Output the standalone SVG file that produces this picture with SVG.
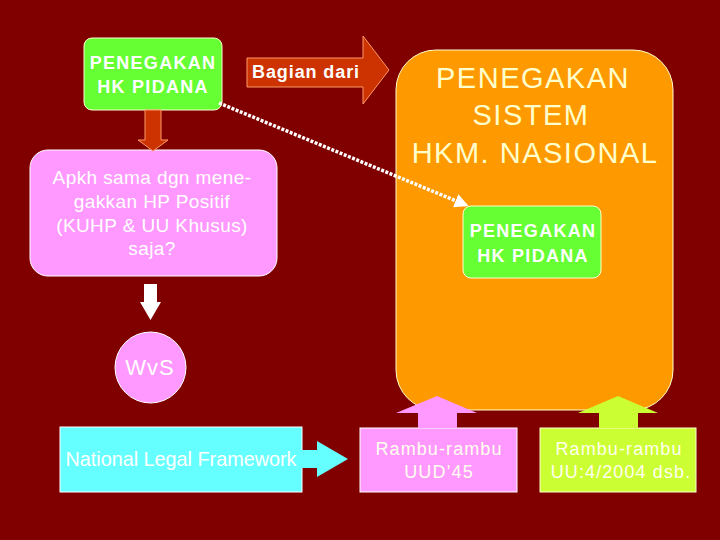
<svg xmlns="http://www.w3.org/2000/svg" width="720" height="540" viewBox="0 0 720 540">
<defs>
<style>
text{font-family:"Liberation Sans",Arial,sans-serif;fill:#ffffff;text-anchor:middle}
.b{font-weight:bold;font-size:18px;letter-spacing:1.3px}
.g{fill:#66ff33;stroke:#ffffcc;stroke-width:1}
.pk{fill:#ff99ff;stroke:#ffffff;stroke-width:1}
.r{font-size:19px;letter-spacing:0.4px}
.s{font-size:18px;letter-spacing:1.1px;fill:#ffffee}
</style>
<marker id="ah" viewBox="0 0 10 10" refX="8" refY="5" markerWidth="4" markerHeight="4" orient="auto" markerUnits="strokeWidth">
<path d="M0,0 L10,5 L0,10 z" fill="#ffffff"/>
</marker>
</defs>
<rect width="720" height="540" fill="#800000"/>

<g id="node-sistem">
<rect x="396" y="50" width="277" height="360" rx="40" fill="#ff9900" stroke="#ffffcc" stroke-width="1"/>
<text x="533" y="88" style="font-size:29px;letter-spacing:1.5px;fill:#ffffcc">PENEGAKAN</text>
<text x="531" y="125" style="font-size:29px;letter-spacing:1.5px;fill:#ffffcc">SISTEM</text>
<text x="535" y="163" style="font-size:29px;letter-spacing:1.5px;fill:#ffffcc">HKM. NASIONAL</text>
</g>

<g id="node-pidana-top">
<rect class="g" x="84" y="38" width="138" height="72" rx="8"/>
<text class="b" x="153" y="69">PENEGAKAN</text>
<text class="b" x="153" y="93">HK PIDANA</text>
</g>

<g id="node-bagian">
<polygon points="247,58 363,58 363,36 389,70 363,104 363,87 247,87" fill="#cc3300" stroke="#ff9966" stroke-width="1"/>
<text x="306" y="78" style="font-weight:bold;font-size:18px;letter-spacing:0.9px">Bagian dari</text>
</g>

<g id="node-pidana-inner">
<rect class="g" x="463" y="206" width="138" height="72" rx="8"/>
<text class="b" x="533" y="237">PENEGAKAN</text>
<text class="b" x="533" y="262">HK PIDANA</text>
</g>

<g id="node-apkh">
<rect class="pk" x="30" y="150" width="247" height="126" rx="18"/>
<text class="r" x="152" y="184">Apkh sama dgn mene-</text>
<text class="r" x="152" y="208">gakkan HP Positif</text>
<text class="r" x="152" y="232">(KUHP &amp; UU Khusus)</text>
<text class="r" x="152" y="255">saja?</text>
</g>

<g id="node-wvs">
<circle class="pk" cx="150.5" cy="367.5" r="35.5"/>
<text x="150" y="375" style="font-size:22px;letter-spacing:1px">WvS</text>
</g>

<g id="node-nlf">
<rect x="60" y="427" width="242" height="65" fill="#66ffff" stroke="#ffffff" stroke-width="1"/>
<text x="181" y="466" style="font-size:19.8px">National Legal Framework</text>
</g>

<g id="node-uud">
<rect x="360" y="428" width="157" height="64" fill="#ff99ff" stroke="#ffffff" stroke-width="1"/>
<text class="s" x="439" y="455">Rambu-rambu</text>
<text class="s" x="439" y="478">UUD’45</text>
</g>

<g id="node-uu">
<rect x="540" y="428" width="156" height="64" fill="#ccff33" stroke="#ffffcc" stroke-width="1"/>
<text class="s" x="619" y="455">Rambu-rambu</text>
<text class="s" x="621" y="478">UU:4/2004 dsb.</text>
</g>

<g id="connectors">
<polygon points="145,110 161,110 161,140 168,140 153,151 138,140 145,140" fill="#cc3300" stroke="#ff9966" stroke-width="1"/>
<polygon points="144,284 157,284 157,302 161,302 150.5,320 140,302 144,302" fill="#ffffff"/>
<polygon points="301,450 317,450 317,441 348,459 317,477 317,468 301,468" fill="#66ffff"/>
<polygon points="418,428 418,413 396,413 437,396 477,413 457,413 457,428" fill="#ff99ff"/>
<polygon points="599,428 599,413 578,413 618,396 658,413 638,413 638,428" fill="#ccff33"/>
<line x1="219" y1="103" x2="466" y2="205" stroke="#ffffff" stroke-width="3.5" stroke-dasharray="3 1.5" marker-end="url(#ah)"/>
</g>
</svg>
